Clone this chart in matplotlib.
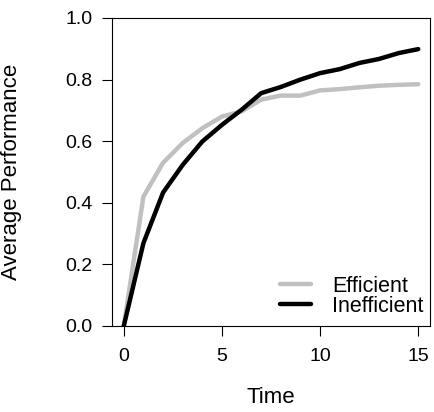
import numpy as np
import matplotlib
matplotlib.use("Agg")
import matplotlib.pyplot as plt

plt.rcParams['font.family'] = ['Liberation Sans', 'DejaVu Sans']

time = [0, 1, 2, 3, 4, 5, 6, 7, 8, 9, 10, 11, 12, 13, 14, 15]
efficient = [0.0, 0.42, 0.53, 0.594, 0.642, 0.68, 0.697, 0.735, 0.748, 0.748,
             0.765, 0.769, 0.775, 0.78, 0.783, 0.785]
inefficient = [0.0, 0.269, 0.433, 0.523, 0.599, 0.653, 0.702, 0.756, 0.776, 0.80,
               0.821, 0.834, 0.854, 0.867, 0.886, 0.899]
x_ticks = [0, 5, 10, 15]
y_ticks = [0.0, 0.2, 0.4, 0.6, 0.8, 1.0]


def main():
    fig = plt.figure(figsize=(4.34, 4.12), dpi=100)
    ax = fig.add_axes([112 / 434, 1 - 326 / 412, 318 / 434, 308 / 412])

    ax.plot(time, efficient, color="#c0c0c0", lw=3.2, label="Efficient",
            solid_capstyle="round", solid_joinstyle="round")
    ax.plot(time, inefficient, color="black", lw=3.2, label="Inefficient",
            solid_capstyle="round", solid_joinstyle="round")

    ax.set_xlim(-0.6, 15.6)
    ax.set_ylim(0, 1)
    ax.set_xticks(x_ticks)
    ax.set_xticklabels([str(t) for t in x_ticks])
    ax.set_yticks(y_ticks)
    ax.set_yticklabels(["%.1f" % v for v in y_ticks])
    ax.tick_params(axis='both', direction='out', length=7, width=0.8,
                   labelsize=14)
    ax.tick_params(axis='y', pad=7)
    ax.tick_params(axis='x', pad=9)
    for s in ax.spines.values():
        s.set_linewidth(0.8)

    fig.text(112 / 434 + 159 / 434, 1 - 403 / 412, "Time", fontsize=16,
             ha='center', va='baseline')
    fig.text(17 / 434, 1 - 172 / 412, "Average Performance", fontsize=16,
             rotation=90, rotation_mode='anchor', ha='center', va='baseline')

    ax.legend(loc='lower right', bbox_to_anchor=(1.02, -0.012), frameon=False,
              fontsize=15.5, handlelength=1.4, handletextpad=1.0,
              labelspacing=-0.05, borderaxespad=0.2)

    fig.savefig("out.png", dpi=100)


if __name__ == "__main__":
    main()
